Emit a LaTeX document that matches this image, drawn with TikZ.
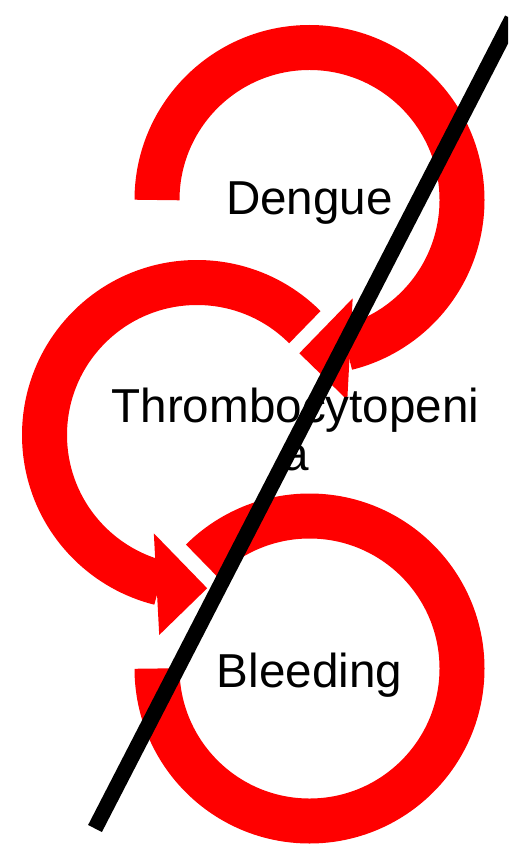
\documentclass[tikz,border=0pt]{standalone}
\usepackage{fontspec}
\setmainfont{Liberation Sans}
\usetikzlibrary{positioning}

\begin{document}
\begin{tikzpicture}[
  x=0.02cm, y=-0.02cm,
  ring/.style={draw=red, line width=0.9cm},
  head/.style={fill=red},
  lbl/.style={font=\fontsize{27.1}{27.2}\selectfont, inner sep=0pt, anchor=base, align=center},
  strike/.style={draw=black, line width=0.31cm}
]
  \useasboundingbox (0,0) rectangle (508,844);
  \clip (0,0) rectangle (508,844);
  \coordinate (c1) at (309.5,200);
  \coordinate (c2) at (197,435);
  \coordinate (c3) at (309.5,668.5);
  \draw[ring] (c1) ++(180:152.5) arc[start angle=180, end angle=436, radius=152.5];
  \fill[head, shift={(c1)}] (66.3:107.4) -- (93.8:153.6) -- (79.3:203.5) -- cycle;
  \draw[ring] (c2) ++(-45:152.5) arc[start angle=-45, end angle=-256, radius=152.5];
  \fill[head, shift={(c2)}] (113.7:107.4) -- (86.2:153.6) -- (100.7:203.5) -- cycle;
  \draw[ring] (c3) ++(180:152.5) arc[start angle=180, end angle=-135, radius=152.5];
  \node[lbl] (dengue) at (309.5,215) {Dengue};
  \node[lbl] (thrombo) at (295.5,470) {Thrombocytopeni\\a};
  \node[lbl] (bleeding) at (309.5,687) {Bleeding};
  \coordinate (s1) at (95,828.5);
  \coordinate (s2) at (512,19);
  \draw[strike] (s1) -- (s2);
\end{tikzpicture}
\end{document}
